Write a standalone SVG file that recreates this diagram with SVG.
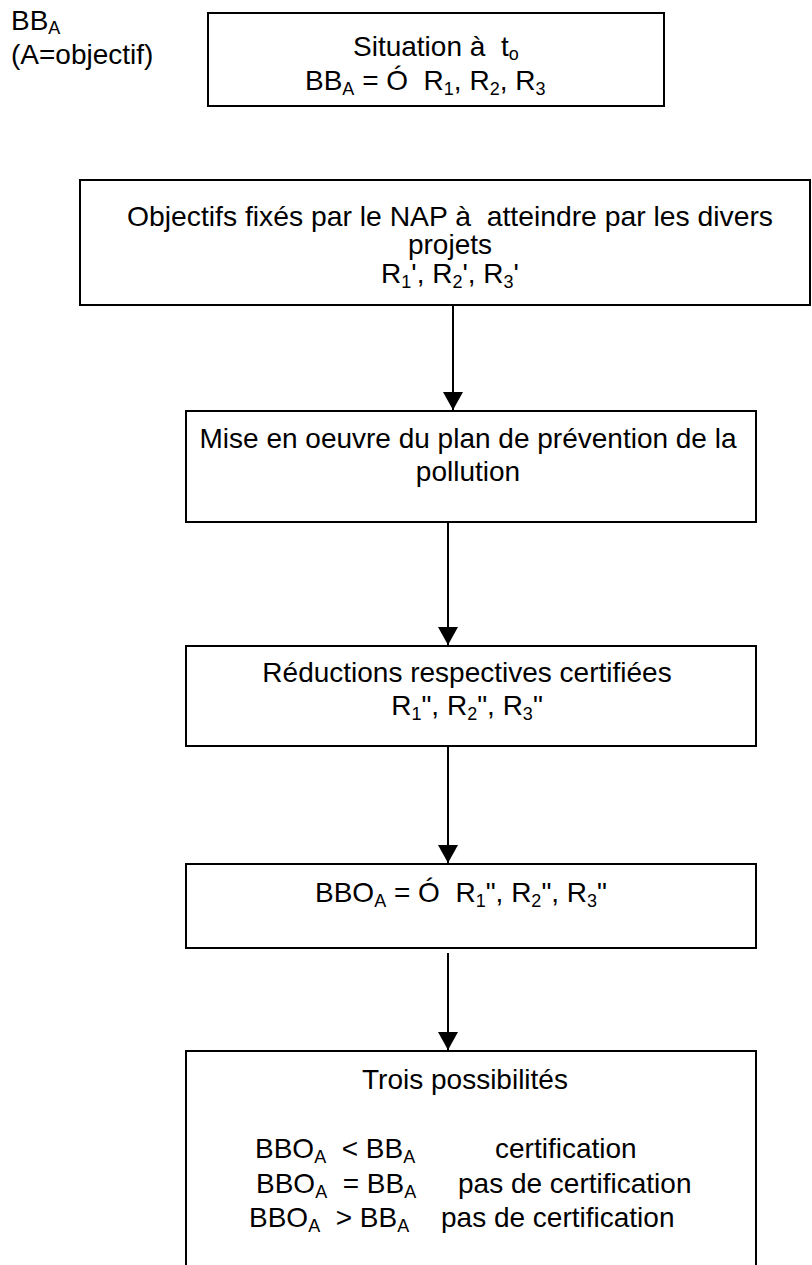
<svg xmlns="http://www.w3.org/2000/svg" width="812" height="1265" viewBox="0 0 812 1265">
<defs>
<marker id="ah" viewBox="0 0 18 20" refX="18" refY="10" markerWidth="18" markerHeight="20" markerUnits="userSpaceOnUse" orient="auto">
<path d="M0,0 L18,10 L0,20 Z" fill="#000"/>
</marker>
</defs>
<style>
text{font-family:"Liberation Sans",Arial,sans-serif;font-size:28px;fill:#000;white-space:pre}
.c{text-anchor:middle}
.s{font-size:18px}
.box{fill:#fff;stroke:#000;stroke-width:2}
.con{stroke:#000;stroke-width:2;fill:none;marker-end:url(#ah)}
</style>
<rect width="812" height="1265" fill="#fff"/>
<g id="label">
<text x="11" y="30">BB<tspan class="s" dy="4">A</tspan></text>
<text x="11" y="64">(A=objectif)</text>
</g>
<g id="n1">
<rect class="box" x="208" y="13" width="456" height="93"/>
<text x="353" y="56">Situation à  t<tspan class="s" dy="4">o</tspan></text>
<text x="305" y="90">BB<tspan class="s" dy="5">A</tspan><tspan dy="-5"> = Ó  R</tspan><tspan class="s" dy="5">1</tspan><tspan dy="-5">, R</tspan><tspan class="s" dy="5">2</tspan><tspan dy="-5">, R</tspan><tspan class="s" dy="5">3</tspan></text>
</g>
<g id="n2">
<rect class="box" x="80" y="180" width="730" height="125"/>
<text class="c" x="450" y="226" textLength="646" lengthAdjust="spacingAndGlyphs">Objectifs fixés par le NAP à  atteindre par les divers</text>
<text class="c" x="450" y="254">projets</text>
<text class="c" x="450" y="283">R<tspan class="s" dy="5">1</tspan><tspan dy="-5">', R</tspan><tspan class="s" dy="5">2</tspan><tspan dy="-5">', R</tspan><tspan class="s" dy="5">3</tspan><tspan dy="-5">'</tspan></text>
</g>
<g id="n3">
<rect class="box" x="186" y="411" width="570" height="111"/>
<text class="c" x="468" y="448">Mise en oeuvre du plan de prévention de la</text>
<text class="c" x="468" y="481">pollution</text>
</g>
<g id="n4">
<rect class="box" x="186" y="646" width="570" height="100"/>
<text class="c" x="467" y="682">Réductions respectives certifiées</text>
<text class="c" x="467" y="715">R<tspan class="s" dy="5">1</tspan><tspan dy="-5">", R</tspan><tspan class="s" dy="5">2</tspan><tspan dy="-5">", R</tspan><tspan class="s" dy="5">3</tspan><tspan dy="-5">"</tspan></text>
</g>
<g id="n5">
<rect class="box" x="186" y="864" width="570" height="84"/>
<text x="315" y="902">BBO<tspan class="s" dy="5">A</tspan><tspan dy="-5"> = Ó  R</tspan><tspan class="s" dy="5">1</tspan><tspan dy="-5">", R</tspan><tspan class="s" dy="5">2</tspan><tspan dy="-5">", R</tspan><tspan class="s" dy="5">3</tspan><tspan dy="-5">"</tspan></text>
</g>
<g id="n6">
<path class="box" d="M186,1266 V1051 H756 V1266"/>
<text class="c" x="465" y="1089">Trois possibilités</text>
<text x="255" y="1158">BBO<tspan class="s" dy="5">A</tspan><tspan dy="-5">  &lt; BB</tspan><tspan class="s" dy="5">A</tspan></text>
<text x="495" y="1158">certification</text>
<text x="256" y="1193">BBO<tspan class="s" dy="5">A</tspan><tspan dy="-5">  = BB</tspan><tspan class="s" dy="5">A</tspan></text>
<text x="458" y="1193">pas de certification</text>
<text x="249" y="1227">BBO<tspan class="s" dy="5">A</tspan><tspan dy="-5">  &gt; BB</tspan><tspan class="s" dy="5">A</tspan></text>
<text x="441" y="1227">pas de certification</text>
</g>
<g id="connectors">
<line class="con" x1="453" y1="305" x2="453" y2="410"/>
<line class="con" x1="448" y1="522" x2="448" y2="645"/>
<line class="con" x1="448" y1="746" x2="448" y2="863"/>
<line class="con" x1="448" y1="953" x2="448" y2="1050"/>
</g>
</svg>
